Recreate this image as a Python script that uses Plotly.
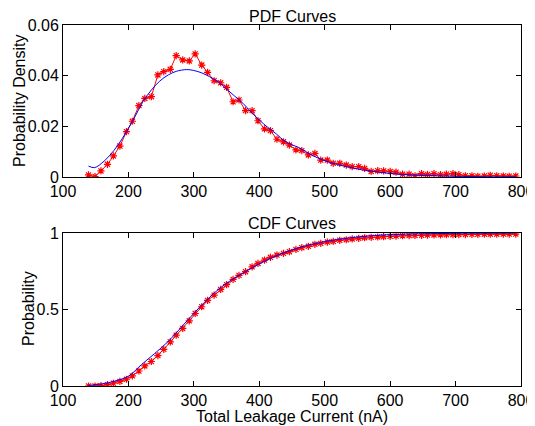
import plotly.graph_objects as go

# Sample x positions (nA)
x_samples = [139, 149, 158, 168, 177, 187, 197, 206, 216, 225, 235, 245, 254, 264, 273,
             283, 293, 302, 312, 321, 331, 341, 350, 360, 369, 379, 389, 398, 408, 417,
             427, 437, 446, 456, 465, 475, 485, 494, 504, 513, 523, 533, 542, 552, 561,
             571, 581, 590, 600, 609, 619, 629, 638, 648, 657, 667, 677, 686, 696, 705,
             715, 725, 734, 744, 753, 763, 773, 782, 792]

pdf_empirical = [0.0008, 0.0002, 0.0024, 0.0050, 0.0083, 0.0122, 0.0179, 0.0220, 0.0282, 0.0310,
                 0.0317, 0.0403, 0.0416, 0.0425, 0.0479, 0.0462, 0.0458, 0.0486, 0.0442, 0.0413,
                 0.0380, 0.0372, 0.0354, 0.0297, 0.0304, 0.0262, 0.0262, 0.0222, 0.0190, 0.0183,
                 0.0149, 0.0139, 0.0126, 0.0107, 0.0104, 0.0087, 0.0093, 0.0067, 0.0067, 0.0054,
                 0.0054, 0.0047, 0.0041, 0.0041, 0.0034, 0.0022, 0.0025, 0.0024, 0.0022, 0.0019,
                 0.0011, 0.0011, 0.0005, 0.0013, 0.0010, 0.0013, 0.0009, 0.0011, 0.0013, 0.0009,
                 0.0005, 0.0005, 0.0003, 0.0004, 0.0007, 0.0005, 0.0004, 0.0003, 0.0004]

cdf_empirical = [0.000, 0.000, 0.002, 0.009, 0.018, 0.030, 0.044, 0.066, 0.098, 0.131,
                 0.160, 0.199, 0.240, 0.288, 0.332, 0.376, 0.426, 0.474, 0.518, 0.559,
                 0.594, 0.631, 0.662, 0.697, 0.723, 0.747, 0.779, 0.801, 0.823, 0.841,
                 0.856, 0.867, 0.878, 0.893, 0.904, 0.913, 0.926, 0.932, 0.941, 0.945,
                 0.952, 0.956, 0.961, 0.965, 0.969, 0.972, 0.974, 0.976, 0.978, 0.980,
                 0.982, 0.983, 0.984, 0.985, 0.986, 0.987, 0.988, 0.989, 0.989, 0.990,
                 0.990, 0.991, 0.991, 0.992, 0.992, 0.992, 0.993, 0.993, 0.993]

# Fitted curves
x_fit_pdf = [139, 148, 159, 171, 184, 197, 210, 222, 235, 248, 261, 273, 289, 299, 311,
             324, 337, 349, 362, 375, 387, 400, 413, 426, 438, 451, 460, 482, 507, 533,
             558, 584, 609, 634, 685, 736, 792]
pdf_fit = [0.0043, 0.0037, 0.0054, 0.0084, 0.0126, 0.0179, 0.0238, 0.0297, 0.0343, 0.0379,
           0.0403, 0.0417, 0.0424, 0.0421, 0.0412, 0.0396, 0.0376, 0.0350, 0.0320, 0.0291,
           0.0258, 0.0225, 0.0196, 0.0170, 0.0143, 0.0126, 0.0117, 0.0084, 0.0058, 0.0041,
           0.0028, 0.0019, 0.0012, 0.0008, 0.0004, 0.0001, 0.0001]

x_fit_cdf = [139, 160, 180, 200, 220, 240, 260, 280, 300, 320, 340, 360, 380, 400, 420,
             440, 460, 480, 500, 520, 540, 560, 580, 600, 650, 700, 750, 792]
cdf_fit = [0.004, 0.014, 0.033, 0.064, 0.140, 0.212, 0.288, 0.380, 0.475, 0.563, 0.640, 0.700,
           0.750, 0.798, 0.840, 0.874, 0.903, 0.926, 0.944, 0.958, 0.969, 0.978, 0.984, 0.989,
           0.995, 0.998, 0.999, 1.000]

x_ticks = [100, 200, 300, 400, 500, 600, 700, 800]
pdf_ticks = [0, 0.02, 0.04, 0.06]
pdf_tick_text = ["0", "0.02", "0.04", "0.06"]
cdf_ticks = [0, 0.5, 1]
cdf_tick_text = ["0", "0.5", "1"]

FONT = "Liberation Sans, Arial, Helvetica, sans-serif"
FS = 16
red_marker = dict(symbol="asterisk-open", size=6, color="#ff0000",
                  line=dict(color="#ff0000", width=1.2))

# The page body adds an 8px offset; the figure is sized to fit the window after it.
OFF = 8
W, H = 535 - OFF, 426 - OFF
ML, MR, MT, MB = 63 - OFF, 14, 25 - OFF, 40
PH = H - MT - MB
PW = W - ML - MR

def paper_x(px):
    # px given in window pixels
    return (px - OFF - ML) / PW

def paper_y(py):
    return (H - MB - (py - OFF)) / PH

fig = go.Figure()
fig.add_trace(go.Scatter(x=x_samples, y=pdf_empirical, mode="lines+markers",
                         line=dict(color="#ff0000", width=1), marker=red_marker,
                         xaxis="x", yaxis="y", showlegend=False))
fig.add_trace(go.Scatter(x=x_fit_pdf, y=pdf_fit, mode="lines", line_shape="spline",
                         line=dict(color="#0000ff", width=1),
                         xaxis="x", yaxis="y", showlegend=False))
fig.add_trace(go.Scatter(x=x_samples, y=cdf_empirical, mode="lines+markers",
                         line=dict(color="#ff0000", width=1), marker=red_marker,
                         xaxis="x2", yaxis="y2", showlegend=False))
fig.add_trace(go.Scatter(x=x_fit_cdf, y=cdf_fit, mode="lines", line_shape="spline",
                         line=dict(color="#0000ff", width=1),
                         xaxis="x2", yaxis="y2", showlegend=False))

axis_common = dict(showline=True, linecolor="black", linewidth=1, mirror="ticks",
                   ticks="inside", ticklen=5, tickcolor="black", tickwidth=1,
                   showgrid=False, zeroline=False, automargin=False,
                   tickfont=dict(family=FONT, size=FS, color="black"))

top_dom = [paper_y(177), 1]
bot_dom = [0, paper_y(233)]

ann_font = dict(family=FONT, size=FS, color="black")
fig.update_layout(
    width=W, height=H,
    margin=dict(l=ML, r=MR, t=MT, b=MB),
    paper_bgcolor="white", plot_bgcolor="white",
    font=dict(family=FONT, size=FS, color="black"),
    xaxis=dict(domain=[0, 1], range=[100, 800], tickvals=x_ticks, anchor="y", **axis_common),
    yaxis=dict(domain=top_dom, range=[0, 0.06], tickvals=pdf_ticks, ticktext=pdf_tick_text,
               anchor="x", **axis_common),
    xaxis2=dict(domain=[0, 1], range=[100, 800], tickvals=x_ticks, anchor="y2", **axis_common),
    yaxis2=dict(domain=bot_dom, range=[0, 1], tickvals=cdf_ticks, ticktext=cdf_tick_text,
                anchor="x2", **axis_common),
    annotations=[
        dict(text="PDF Curves", xref="paper", yref="paper", x=0.5, y=paper_y(17),
             yanchor="middle", showarrow=False, font=ann_font),
        dict(text="CDF Curves", xref="paper", yref="paper", x=0.5, y=paper_y(223),
             yanchor="middle", showarrow=False, font=ann_font),
        dict(text="Total Leakage Current (nA)", xref="paper", yref="paper", x=0.5,
             y=paper_y(416), yanchor="middle", showarrow=False, font=ann_font),
        dict(text="Probability Density", xref="paper", yref="paper", x=paper_x(19),
             y=paper_y(101), xanchor="center", yanchor="middle", textangle=-90,
             showarrow=False, font=ann_font),
        dict(text="Probability", xref="paper", yref="paper", x=paper_x(28),
             y=paper_y(309), xanchor="center", yanchor="middle", textangle=-90,
             showarrow=False, font=ann_font),
    ],
)

fig.write_html("out.html")
